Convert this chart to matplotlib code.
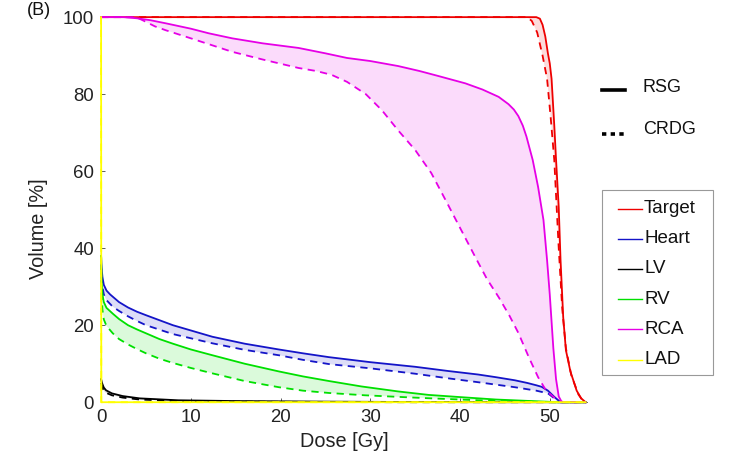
import numpy as np
import matplotlib
matplotlib.use("Agg")
import matplotlib.pyplot as plt
from matplotlib.lines import Line2D
from matplotlib.patches import Rectangle

plt.rcParams['font.family'] = ['Liberation Sans', 'DejaVu Sans']

# ---------------- data (dose [Gy], volume [%]) ----------------
target_rsg_dose = [0, 48.5, 48.9, 49.2, 49.5, 49.8, 50.0, 50.2, 50.5, 50.7, 51.0, 51.2, 51.5, 51.8, 52.3, 53.0, 53.5, 54.0]
target_rsg_vol = [100, 100, 99.6, 98, 95, 90.5, 88, 84, 72, 63, 50.6, 37, 22, 13.5, 8, 3, 1, 0]
target_crdg_dose = [0, 47.5, 48.0, 48.6, 49.2, 49.7, 50.1, 50.5, 51.0, 51.4, 51.8, 52.4, 53.2, 53.8]
target_crdg_vol = [100, 100, 99, 96, 90, 84, 74, 63, 40, 24, 14, 7, 2, 0]

heart_rsg_dose = [0, 0.05, 0.15, 0.3, 0.6, 1.0, 1.3, 2, 3, 4, 5, 8, 12.4, 16, 19.8, 22.5, 25.4, 30, 35,
                  38.7, 42, 44, 46.1, 47.5, 48.5, 49.1, 49.8, 50.5, 51.2, 54]
heart_rsg_vol = [38, 35, 32.5, 30.5, 29, 28, 27.4, 26, 24.6, 23.5, 22.6, 20.0, 17, 15.2, 13.7, 12.7, 11.7, 10.4, 9.2,
                 8.1, 7.2, 6.5, 5.7, 5.0, 4.4, 4.0, 3.0, 1.4, 0, 0]
heart_crdg_dose = [0, 0.05, 0.15, 0.3, 0.6, 1.3, 2, 3, 4, 5, 8, 12.4, 16, 19.8, 22.5, 25.4, 30, 35, 38.7,
                   42, 46.1, 48.5, 49.8, 50.4, 50.9, 54]
heart_crdg_vol = [36, 33, 30, 28, 26.5, 24.8, 23.7, 22.3, 21.1, 20, 17.7, 15.3, 13.6, 12.2, 11, 9.9, 8.8, 7.4, 6.2,
                  5.2, 3.9, 3.0, 2.3, 1.2, 0, 0]

lv_rsg_dose = [0, 0.1, 0.3, 0.55, 1.2, 2.4, 4.3, 8.6, 15, 25, 35, 45, 54]
lv_rsg_vol = [6.0, 5.0, 3.8, 3.1, 2.3, 1.6, 1.0, 0.5, 0.3, 0.15, 0.05, 0, 0]
lv_crdg_dose = [0, 0.1, 0.3, 0.5, 1.2, 2.4, 4.3, 8.6, 15, 25, 35, 54]
lv_crdg_vol = [5.0, 4.0, 3.0, 2.5, 1.8, 1.2, 0.7, 0.3, 0.15, 0.05, 0, 0]

rv_rsg_dose = [0, 0.05, 0.15, 0.3, 0.6, 1.3, 2, 3, 4, 5, 6.5, 8, 10, 12.4, 16, 19.8, 22.5, 25.4, 29, 33.1,
               36.5, 40.2, 44, 48, 50, 51, 54]
rv_rsg_vol = [38, 31, 28, 26, 24.5, 23, 21.6, 20, 18.9, 17.9, 16.4, 15.2, 13.7, 12.2, 10, 8, 6.7, 5.5, 4.1, 2.8,
              1.9, 1.3, 0.7, 0.3, 0.1, 0, 0]
rv_crdg_dose = [0, 0.05, 0.15, 0.3, 0.6, 1.3, 2, 3, 4, 5, 6.5, 8, 10, 12.4, 16, 19.8, 22.5, 25.4, 29.4, 33,
                36.8, 40, 44.2, 48, 50, 54]
rv_crdg_vol = [35, 28, 24, 21.5, 19.8, 17.9, 16.4, 15, 13.8, 12.7, 11.3, 10.2, 8.9, 7.5, 5.5, 3.9, 3.0, 2.4, 1.8, 1.4,
               1.0, 0.7, 0.3, 0.1, 0, 0]

rca_rsg_dose = [0, 2.5, 4, 5.5, 7.2, 10, 12, 14.6, 18, 22, 25, 27.4, 30, 33.1, 35.5, 37.6, 40.6, 42.5, 44.3, 45.4,
                46.0, 46.5, 47.0, 47.4, 48.1, 48.7, 49.3, 49.7, 50.0, 50.4, 50.7, 51.0, 51.3, 51.6, 54]
rca_rsg_vol = [100, 100, 99.7, 99.2, 98.4, 97, 95.8, 94.5, 93.2, 92, 90.6, 89.4, 88.6, 87.3, 86.0, 84.7, 82.8, 81.2, 79.3, 77.4,
               76.0, 74.3, 71.8, 69.0, 62.9, 55.9, 47.3, 36.9, 28, 14, 6, 1.5, 0.2, 0, 0]
rca_crdg_dose = [0, 3.9, 4.8, 6, 7.2, 10, 14.6, 18, 22, 24, 25.7, 27.4, 29.5, 31.3, 33.1, 35, 36.8, 38.5,
                 40.2, 41.7, 43, 44.3, 45.5, 46.5, 47.7, 48.7, 49.6, 50.6, 51.2, 54]
rca_crdg_vol = [100, 100, 99, 97.6, 96.6, 94.5, 91, 89, 86.8, 86, 85, 83.2, 80, 75.8, 70.6, 65.5, 59.5, 52,
                44.4, 37.7, 32, 27.3, 22.5, 18, 11.5, 6.5, 3.0, 1.0, 0, 0]

lad_rsg_dose = [0, 0.02, 54]
lad_rsg_vol = [100, 0, 0]
lad_crdg_dose = [0, 0.02, 54]
lad_crdg_vol = [100, 0, 0]

structures = ['Target', 'Heart', 'LV', 'RV', 'RCA', 'LAD']
colors = ['#ee0000', '#1414c8', '#000000', '#00e000', '#e600e6', '#ffff00']
rsg = [(target_rsg_dose, target_rsg_vol), (heart_rsg_dose, heart_rsg_vol),
       (lv_rsg_dose, lv_rsg_vol), (rv_rsg_dose, rv_rsg_vol),
       (rca_rsg_dose, rca_rsg_vol), (lad_rsg_dose, lad_rsg_vol)]
crdg = [(target_crdg_dose, target_crdg_vol), (heart_crdg_dose, heart_crdg_vol),
        (lv_crdg_dose, lv_crdg_vol), (rv_crdg_dose, rv_crdg_vol),
        (rca_crdg_dose, rca_crdg_vol), (lad_crdg_dose, lad_crdg_vol)]

W, H = 738, 476

# ---------------- figure ----------------
fig = plt.figure(figsize=(7.38, 4.76), dpi=100)
ax = fig.add_axes([0.137, 0.155, 0.659, 0.809])

for name, c, (d1, v1), (d2, v2) in zip(structures, colors, rsg, crdg):
    if name != 'LAD':
        xs = np.concatenate([d1, d2[::-1]])
        ys = np.concatenate([v1, v2[::-1]])
        ax.fill(xs, ys, color=c, alpha=0.14, lw=0, zorder=1)
    z = 5 if name == 'LAD' else 3
    ax.plot(d1, v1, color=c, lw=1.3, zorder=z, label=name, clip_on=False)
    ax.plot(d2, v2, color=c, lw=1.3, ls=(0, (4, 3)), zorder=z, clip_on=False)

ax.set_xlim(0, 54.2)
ax.set_ylim(0, 100)
ax.set_xticks([0, 10, 20, 30, 40, 50])
ax.set_yticks([0, 20, 40, 60, 80, 100])
for s in ['top', 'right']:
    ax.spines[s].set_visible(False)
for s in ['left', 'bottom']:
    ax.spines[s].set_color('#444444')
    ax.spines[s].set_linewidth(0.6)
    ax.spines[s].set_zorder(0)
ax.tick_params(direction='in', length=3, width=0.6, color='#444444',
               labelsize=13.4, labelcolor='#222222', pad=5)
ax.set_xlabel('Dose [Gy]', fontsize=14.3, color='#222222')
ax.set_ylabel('Volume [%]', fontsize=14.3, color='#222222')
ax.xaxis.set_label_coords(0.5, -0.078)
ax.yaxis.set_label_coords(-0.110, 0.45)

# structure legend (drawn as a keyed box)
fig.add_artist(Rectangle((602 / W, 1 - 375 / H), (713 - 602) / W, (375 - 190) / H,
                         transform=fig.transFigure, facecolor='white',
                         edgecolor='#999999', lw=0.8))
for i, (name, c) in enumerate(zip(structures, colors)):
    yy = 1 - (208.5 + i * 30.2) / H
    fig.add_artist(Line2D([618 / W, 642 / W], [yy, yy], color=c, lw=1.0))
    fig.text(644 / W, yy, name, fontsize=13.5, va='center', ha='left', color='#111111')

# line-style key
fig.add_artist(Line2D([602 / W, 625 / W], [1 - 90 / H] * 2, color='black', lw=2.6))
fig.add_artist(Line2D([602 / W, 625 / W], [1 - 134 / H] * 2, color='black', lw=2.6,
                      ls=(0, (1.2, 1.2))))
fig.text(643 / W, 1 - 87 / H, 'RSG', fontsize=13, va='center', ha='left', color='#111111')
fig.text(643 / W, 1 - 130 / H, 'CRDG', fontsize=13, va='center', ha='left', color='#111111')

fig.text(27 / W, 1 - 2 / H, '(B)', fontsize=13, va='top', ha='left', color='#111111')

fig.savefig('out.png', dpi=100)
